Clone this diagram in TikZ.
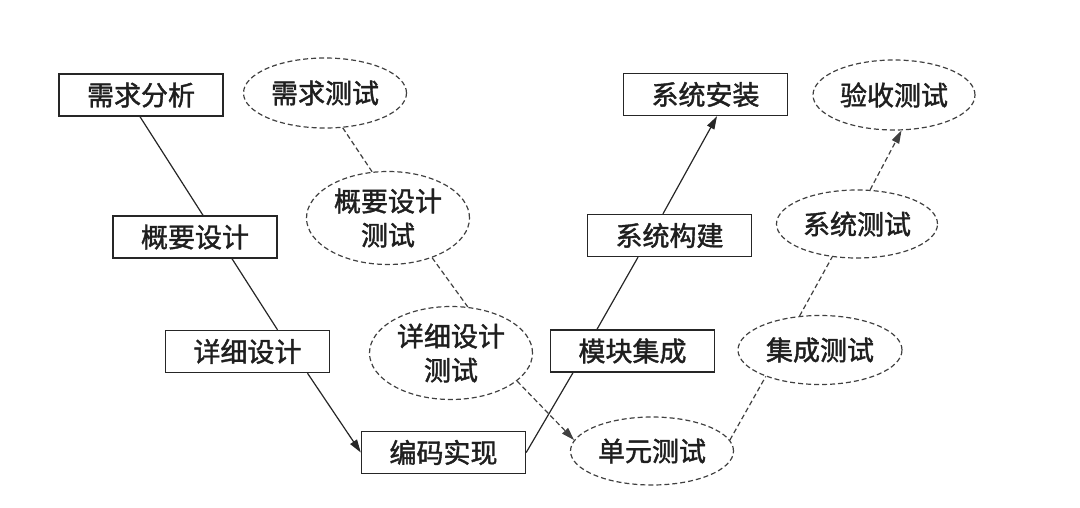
\documentclass[tikz,border=0pt]{standalone}
\usepackage{fontspec}
\newfontfamily\cjk[FakeBold=1.5]{Noto Sans CJK SC}
\usetikzlibrary{arrows.meta,shapes.geometric}
\begin{document}
\begin{tikzpicture}[x=1pt,y=-1pt,
  every node/.style={font=\cjk\fontsize{27}{34}\selectfont, text=black!88},
  procbox/.style={draw=black!85, line width=1.4pt, minimum width=164pt, minimum height=42pt, inner sep=0pt},
  testell/.style={ellipse, draw=black!75, line width=1.2pt, dash pattern=on 5pt off 3pt, inner sep=0pt, minimum width=163pt, align=center},
  solidline/.style={draw=black!85, line width=1.2pt},
  dashline/.style={draw=black!75, line width=1.2pt, dash pattern=on 5pt off 3pt},
  tip/.style={-{Triangle[length=13pt,width=8pt]}}
]
\useasboundingbox (0,0) rectangle (1080,507);
% process boxes
\node[procbox] (a) at (141,95) {需求分析};
\node[procbox] (b) at (195,237) {概要设计};
\node[procbox] (c) at (247.5,351.5) {详细设计};
\node[procbox] (d) at (443.5,452.5) {编码实现};
\node[procbox] (e) at (632.5,351) {模块集成};
\node[procbox] (f) at (669.5,235.5) {系统构建};
\node[procbox] (g) at (705.5,94.5) {系统安装};
% test ellipses
\node[testell, minimum height=70pt] (h) at (325,93) {需求测试};
\node[testell, minimum height=93pt] (i) at (388,218) {概要设计\\测试};
\node[testell, minimum height=93pt] (j) at (451,353) {详细设计\\测试};
\node[testell, minimum height=68pt] (k) at (652,451) {单元测试};
\node[testell, minimum height=69pt, minimum width=164pt] (l) at (820,350) {集成测试};
\node[testell, minimum height=68pt, minimum width=161pt] (m) at (857,224) {系统测试};
\node[testell, minimum height=70pt, minimum width=162pt] (n) at (894,95) {验收测试};
% solid connectors
\draw[solidline] ([xshift=-1pt]a.south) -- ([xshift=8pt]b.north);
\draw[solidline] ([xshift=37pt]b.south) -- ([xshift=30pt]c.north);
\draw[solidline,tip] ([xshift=60pt]c.south) -- (d.west);
\draw[solidline] (d.east) -- ([xshift=-59.5pt]e.south);
\draw[solidline] ([xshift=-35.5pt]e.north) -- ([xshift=-31.5pt]f.south);
\draw[solidline,tip] ([xshift=-6.5pt]f.north) -- ([xshift=11.5pt]g.south);
% dashed connectors
\draw[dashline] (h.-63) -- (i.109);
\draw[dashline] (i.-42) -- (j.70);
\draw[dashline,tip] (j.-23) -- (k.172);
\draw[dashline] (k.8) -- (l.-154);
\draw[dashline] (l.121) -- (m.-127);
\draw[dashline,tip] (m.69) -- (n.-78);
\end{tikzpicture}
\end{document}
